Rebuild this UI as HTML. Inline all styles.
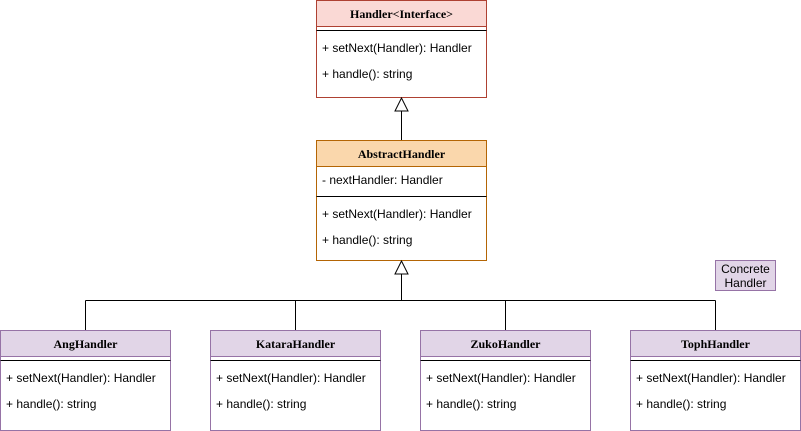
<!DOCTYPE html>
<html><head><meta charset="utf-8"><style>
html,body{margin:0;padding:0;background:#fff;}
svg{display:block;}
.h{font-family:"Liberation Serif",serif;font-weight:bold;font-size:12px;text-anchor:middle;}
.t{font-family:"Liberation Sans",sans-serif;font-size:12px;}
</style></head><body>
<svg width="801" height="431" viewBox="0 0 801 431" xmlns="http://www.w3.org/2000/svg">
<!-- Handler -->
<rect x="316.5" y="0.5" width="170" height="97" fill="#fff" stroke="#ae4132"/>
<rect x="316.5" y="0.5" width="170" height="26" fill="#fad9d5" stroke="#ae4132"/>
<line x1="316.5" y1="30.5" x2="486.5" y2="30.5" stroke="#000"/>
<text class="h" x="401.5" y="18">Handler&lt;Interface&gt;</text>
<text class="t" x="322" y="52">+ setNext(Handler): Handler</text>
<text class="t" x="322" y="78">+ handle(): string</text>
<!-- arrow 1 -->
<line x1="401.5" y1="111" x2="401.5" y2="140.5" stroke="#000"/>
<polygon points="401.5,98 395,111 408,111" fill="#fff" stroke="#000"/>
<!-- Abstract -->
<rect x="316.5" y="140.5" width="170" height="120" fill="#fff" stroke="#b46504"/>
<rect x="316.5" y="140.5" width="170" height="26" fill="#fad7ac" stroke="#b46504"/>
<line x1="316.5" y1="196.5" x2="486.5" y2="196.5" stroke="#000"/>
<text class="h" x="401.5" y="158">AbstractHandler</text>
<text class="t" x="322" y="184">- nextHandler: Handler</text>
<text class="t" x="322" y="218">+ setNext(Handler): Handler</text>
<text class="t" x="322" y="244">+ handle(): string</text>
<!-- tree -->
<polyline points="401.5,274 401.5,300.5" fill="none" stroke="#000"/>
<line x1="85.5" y1="300.5" x2="715.5" y2="300.5" stroke="#000"/>
<line x1="85.5" y1="300.5" x2="85.5" y2="330.5" stroke="#000"/>
<line x1="295.5" y1="300.5" x2="295.5" y2="330.5" stroke="#000"/>
<line x1="505.5" y1="300.5" x2="505.5" y2="330.5" stroke="#000"/>
<line x1="715.5" y1="300.5" x2="715.5" y2="330.5" stroke="#000"/>
<polygon points="401.5,261 395,274 408,274" fill="#fff" stroke="#000"/>
<!-- note -->
<rect x="715.5" y="260.5" width="60" height="30" fill="#e1d5e7" stroke="#9673a6"/>
<text class="t" x="745.5" y="273" text-anchor="middle">Concrete</text>
<text class="t" x="745.5" y="287" text-anchor="middle">Handler</text>
<!-- children -->
<g>
<rect x="0.5" y="330.5" width="170" height="100" fill="#fff" stroke="#9673a6"/>
<rect x="0.5" y="330.5" width="170" height="26" fill="#e1d5e7" stroke="#9673a6"/>
<line x1="0.5" y1="360.5" x2="170.5" y2="360.5" stroke="#000"/>
<text class="h" x="85.5" y="348">AngHandler</text>
<text class="t" x="6" y="382">+ setNext(Handler): Handler</text>
<text class="t" x="6" y="408">+ handle(): string</text>
</g>
<g>
<rect x="210.5" y="330.5" width="170" height="100" fill="#fff" stroke="#9673a6"/>
<rect x="210.5" y="330.5" width="170" height="26" fill="#e1d5e7" stroke="#9673a6"/>
<line x1="210.5" y1="360.5" x2="380.5" y2="360.5" stroke="#000"/>
<text class="h" x="295.5" y="348">KataraHandler</text>
<text class="t" x="216" y="382">+ setNext(Handler): Handler</text>
<text class="t" x="216" y="408">+ handle(): string</text>
</g>
<g>
<rect x="420.5" y="330.5" width="170" height="100" fill="#fff" stroke="#9673a6"/>
<rect x="420.5" y="330.5" width="170" height="26" fill="#e1d5e7" stroke="#9673a6"/>
<line x1="420.5" y1="360.5" x2="590.5" y2="360.5" stroke="#000"/>
<text class="h" x="505.5" y="348">ZukoHandler</text>
<text class="t" x="426" y="382">+ setNext(Handler): Handler</text>
<text class="t" x="426" y="408">+ handle(): string</text>
</g>
<g>
<rect x="630.5" y="330.5" width="170" height="100" fill="#fff" stroke="#9673a6"/>
<rect x="630.5" y="330.5" width="170" height="26" fill="#e1d5e7" stroke="#9673a6"/>
<line x1="630.5" y1="360.5" x2="800.5" y2="360.5" stroke="#000"/>
<text class="h" x="715.5" y="348">TophHandler</text>
<text class="t" x="636" y="382">+ setNext(Handler): Handler</text>
<text class="t" x="636" y="408">+ handle(): string</text>
</g>
</svg>
</body></html>
